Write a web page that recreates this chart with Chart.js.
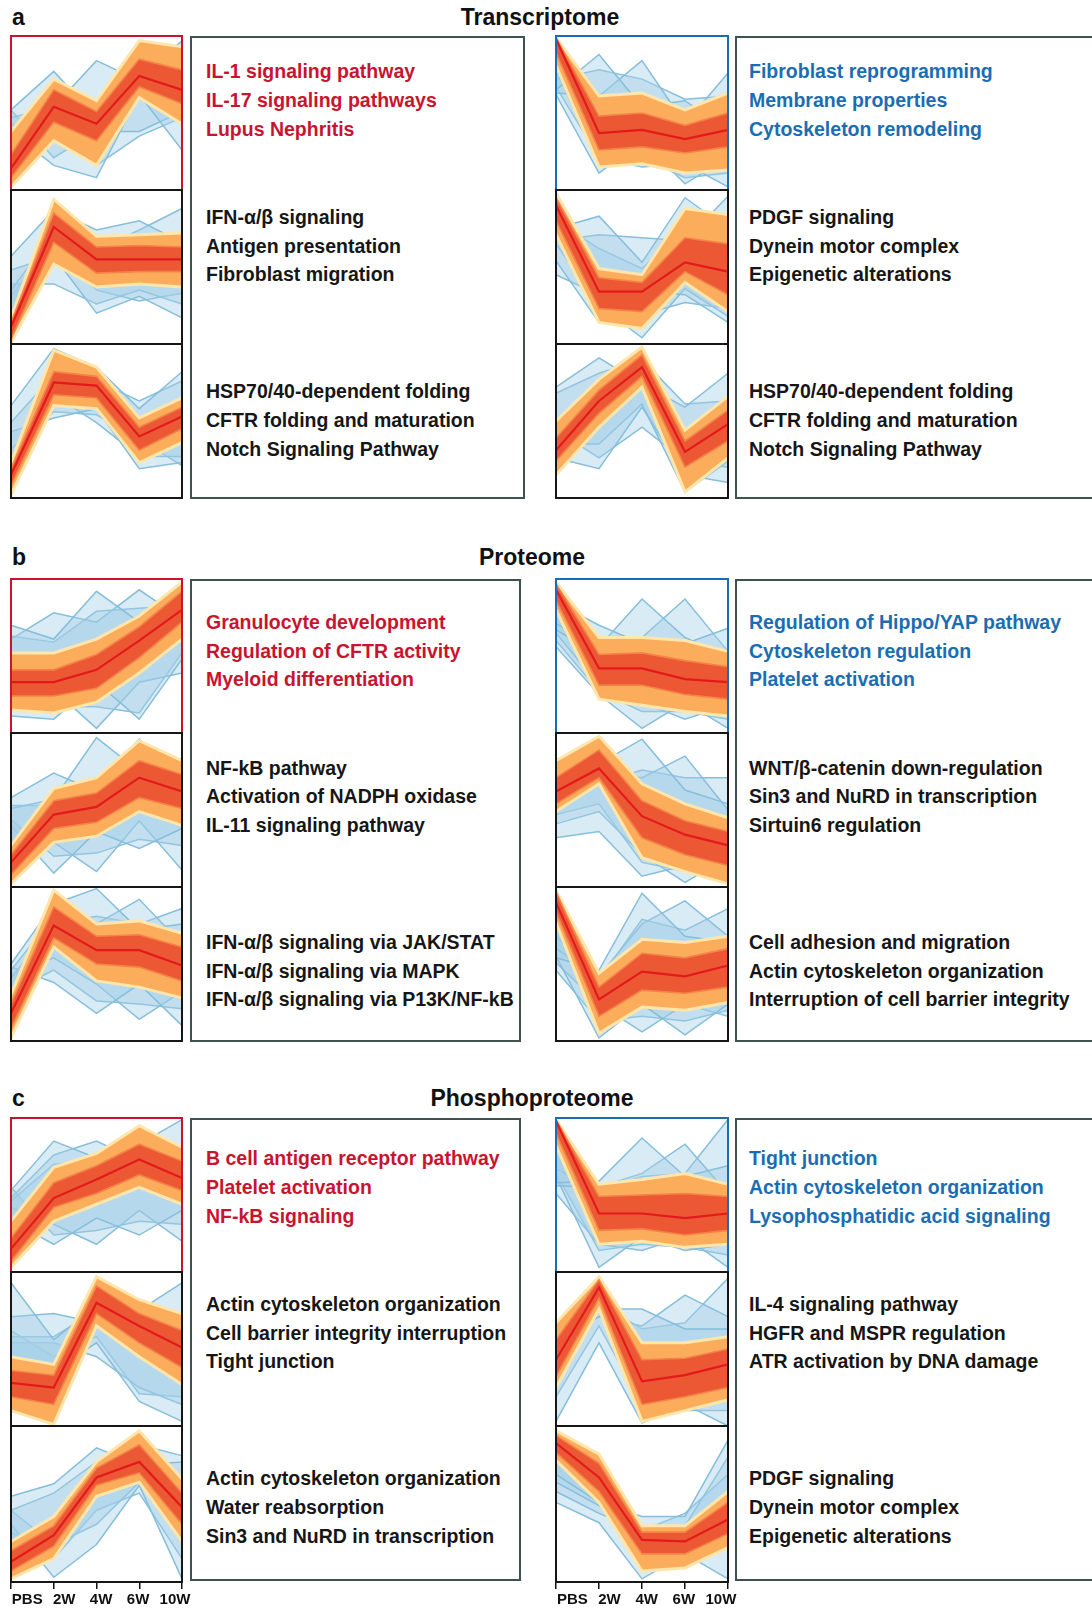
<!DOCTYPE html>
<html>
<head>
<meta charset="utf-8">
<title>Cluster profiles</title>
<script src="https://cdn.jsdelivr.net/npm/chart.js@4.4.1/dist/chart.umd.min.js"></script>
<style>
  html, body { margin: 0; padding: 0; background: #fff; }
  #page { position: relative; width: 1092px; height: 1608px; overflow: hidden;
          font-family: 'Liberation Sans', Arial, sans-serif; }
  .head { position: absolute; font-weight: bold; font-size: 23px; line-height: 23px; color: #111; white-space: nowrap; }
  .title { transform: translateX(-50%); }
  .textbox { position: absolute; border: 2px solid #3f524f; box-sizing: border-box; }
  .terms { position: absolute; font-weight: bold; font-size: 19.5px; line-height: 28.7px; white-space: nowrap; }
  canvas { position: absolute; }
</style>
</head>
<body>
<div id="page"></div>
<script>
const timepoints = ['PBS', '2W', '4W', '6W', '10W'];

// scaled expression, 0 = bottom of panel, 100 = top
// centroid, core band [hi, lo], outer band [hi, lo], low-membership lines

// Transcriptome
const trL1Centroid = [14, 54, 43, 74, 65];
const trL1Core = [[23, 65, 51, 85, 78], [8, 44, 32, 67, 56]];
const trL1Band = [[38, 72, 58, 97, 93], [2, 32, 16, 60, 43]];
const trL1Members = [[52, 77, 47, 95, 91], [47, 54, 84, 71, 97], [38, 16, 8, 62, 26], [52, 21, 38, 38, 51], [43, 32, 16, 35, 47]];

const trL2Centroid = [11, 76, 55, 55, 55];
const trL2Core = [[14, 85, 63, 64, 63], [3, 66, 46, 47, 47]];
const trL2Band = [[17, 94, 70, 71, 72], [1, 52, 37, 39, 37]];
const trL2Members = [[57, 87, 74, 80, 66], [35, 72, 61, 74, 88], [48, 57, 20, 31, 17], [39, 39, 26, 35, 26], [31, 66, 35, 28, 33]];

const trL3Centroid = [15, 75, 73, 40, 53];
const trL3Core = [[19, 82, 79, 46, 59], [8, 67, 65, 31, 45]];
const trL3Band = [[23, 96, 85, 52, 65], [2, 60, 58, 23, 36]];
const trL3Members = [[60, 97, 85, 58, 82], [49, 80, 76, 63, 76], [43, 52, 58, 19, 23], [5, 67, 49, 27, 27], [32, 56, 54, 38, 21]];

const trR1Centroid = [98, 37, 39, 33, 39];
const trR1Core = [[99, 48, 50, 42, 50], [89, 26, 28, 24, 28]];
const trR1Band = [[99, 61, 63, 52, 63], [81, 15, 17, 11, 13]];
const trR1Members = [[65, 88, 54, 58, 39], [63, 61, 84, 43, 76], [72, 78, 72, 59, 61], [62, 11, 32, 4, 21], [67, 21, 15, 17, 2], [78, 17, 21, 8, 11]];

const trR2Centroid = [90, 34, 34, 53, 47];
const trR2Core = [[95, 43, 40, 69, 65], [80, 23, 21, 47, 32]];
const trR2Band = [[98, 49, 45, 88, 84], [71, 14, 10, 40, 21]];
const trR2Members = [[75, 83, 53, 95, 75], [67, 71, 69, 67, 96], [80, 62, 49, 75, 84], [54, 14, 34, 32, 14], [65, 25, 4, 36, 18], [45, 32, 19, 27, 23]];

const trR3Centroid = [31, 63, 85, 30, 48];
const trR3Core = [[39, 70, 93, 37, 57], [24, 55, 79, 20, 37]];
const trR3Band = [[50, 77, 98, 44, 66], [15, 46, 72, 4, 26]];
const trR3Members = [[72, 91, 74, 59, 81], [68, 81, 90, 61, 63], [26, 19, 59, 15, 10], [35, 35, 61, 4, 24], [44, 26, 46, 24, 20]];

// Proteome
const prL1Centroid = [33, 33, 41, 60, 80];
const prL1Core = [[41, 41, 51, 69, 92], [24, 24, 29, 49, 72]];
const prL1Band = [[52, 52, 61, 76, 98], [15, 13, 20, 39, 61]];
const prL1Members = [[70, 61, 92, 72, 78], [61, 78, 72, 93, 74], [63, 59, 79, 81, 83], [11, 9, 33, 9, 48], [22, 28, 3, 33, 39], [15, 17, 17, 13, 52]];

const prL2Centroid = [16, 47, 52, 71, 62];
const prL2Core = [[21, 56, 61, 82, 73], [8, 38, 42, 58, 51]];
const prL2Band = [[27, 64, 71, 95, 82], [2, 29, 33, 49, 40]];
const prL2Members = [[58, 74, 62, 62, 84], [51, 57, 97, 75, 71], [53, 53, 67, 96, 67], [40, 9, 36, 25, 38], [31, 29, 10, 43, 11], [44, 20, 22, 31, 27]];

const prL3Centroid = [18, 75, 59, 59, 49];
const prL3Core = [[24, 87, 68, 69, 61], [8, 67, 50, 48, 39]];
const prL3Band = [[30, 98, 76, 78, 70], [2, 61, 39, 35, 28]];
const prL3Members = [[50, 89, 99, 72, 76], [46, 81, 76, 92, 63], [41, 76, 81, 76, 86], [48, 38, 18, 37, 10], [43, 54, 37, 14, 32], [32, 46, 26, 24, 21]];

const prR1Centroid = [93, 42, 42, 35, 33];
const prR1Core = [[97, 51, 52, 47, 43], [86, 31, 31, 25, 22]];
const prR1Band = [[98, 62, 62, 60, 53], [80, 22, 18, 14, 11]];
const prR1Members = [[85, 70, 58, 58, 68], [71, 56, 87, 62, 49], [67, 51, 62, 87, 53], [56, 25, 3, 20, 3], [65, 31, 20, 9, 18], [60, 27, 14, 14, 9]];

const prR2Centroid = [62, 77, 46, 34, 27];
const prR2Core = [[71, 89, 56, 43, 36], [54, 71, 32, 21, 14]];
const prR2Band = [[82, 98, 67, 54, 45], [49, 67, 19, 10, 2]];
const prR2Members = [[83, 80, 96, 63, 54], [76, 74, 71, 85, 50], [71, 67, 76, 71, 71], [32, 36, 7, 14, 10], [41, 49, 21, 3, 19], [47, 54, 16, 10, 5]];

const prR3Centroid = [90, 27, 45, 42, 49];
const prR3Core = [[97, 35, 57, 54, 60], [84, 16, 33, 31, 35]];
const prR3Band = [[98, 44, 66, 64, 68], [77, 5, 22, 20, 25]];
const prR3Members = [[54, 46, 96, 68, 64], [60, 42, 76, 91, 68], [68, 40, 79, 72, 86], [55, 2, 24, 4, 24], [51, 24, 6, 24, 16], [46, 13, 16, 13, 20]];

// Phosphoproteome
const phL1Centroid = [15, 48, 60, 73, 61];
const phL1Core = [[22, 58, 69, 83, 72], [7, 42, 51, 63, 53]];
const phL1Band = [[33, 68, 77, 95, 81], [3, 33, 44, 55, 44]];
const phL1Members = [[53, 85, 74, 78, 65], [48, 76, 85, 72, 81], [46, 70, 72, 83, 99], [33, 18, 35, 24, 40], [42, 31, 18, 40, 20], [55, 24, 27, 33, 31]];

const phL2Centroid = [28, 25, 80, 65, 51];
const phL2Core = [[36, 33, 91, 73, 62], [19, 14, 73, 54, 38]];
const phL2Band = [[45, 40, 97, 82, 73], [10, 1, 65, 45, 27]];
const phL2Members = [[93, 56, 78, 71, 71], [71, 73, 67, 82, 65], [58, 58, 75, 75, 93], [45, 36, 54, 16, 3], [54, 54, 45, 25, 14], [62, 45, 58, 21, 19]];

const phL3Centroid = [13, 30, 67, 77, 48];
const phL3Core = [[20, 36, 73, 88, 57], [7, 23, 62, 70, 37]];
const phL3Band = [[26, 42, 77, 97, 66], [2, 15, 55, 64, 26]];
const phL3Members = [[55, 63, 86, 75, 77], [46, 57, 77, 88, 81], [37, 3, 24, 62, 2], [46, 24, 37, 64, 29], [32, 15, 46, 57, 15]];

const phR1Centroid = [98, 38, 38, 35, 38];
const phR1Core = [[99, 49, 50, 51, 49], [90, 27, 28, 24, 27]];
const phR1Band = [[99, 57, 60, 64, 57], [82, 18, 20, 16, 18]];
const phR1Members = [[58, 59, 87, 62, 69], [56, 55, 64, 83, 51], [67, 53, 62, 64, 99], [62, 3, 23, 14, 18], [51, 18, 14, 23, 3], [64, 14, 18, 16, 11]];

const phR2Centroid = [43, 90, 29, 33, 40];
const phR2Core = [[56, 95, 43, 44, 50], [32, 83, 14, 19, 25]];
const phR2Band = [[67, 97, 54, 54, 58], [25, 76, 3, 10, 17]];
const phR2Members = [[50, 76, 76, 63, 63], [54, 71, 65, 85, 71], [58, 80, 63, 67, 96], [3, 54, 2, 14, 0], [19, 65, 14, 10, 10]];

const phR3Centroid = [89, 67, 27, 26, 40];
const phR3Core = [[94, 76, 32, 32, 51], [83, 58, 18, 18, 31]];
const phR3Band = [[97, 82, 36, 36, 58], [78, 51, 7, 9, 22]];
const phR3Members = [[69, 51, 42, 42, 91], [64, 49, 36, 36, 80], [58, 44, 33, 44, 69], [51, 38, 2, 18, 2]];

// enriched terms next to each cluster
const trLTerms = [
  ['IL-1 signaling pathway', 'IL-17 signaling pathways', 'Lupus Nephritis'],
  ['IFN-α/β signaling', 'Antigen presentation', 'Fibroblast migration'],
  ['HSP70/40-dependent folding', 'CFTR folding and maturation', 'Notch Signaling Pathway']];
const trRTerms = [
  ['Fibroblast reprogramming', 'Membrane properties', 'Cytoskeleton remodeling'],
  ['PDGF signaling', 'Dynein motor complex', 'Epigenetic alterations'],
  ['HSP70/40-dependent folding', 'CFTR folding and maturation', 'Notch Signaling Pathway']];
const prLTerms = [
  ['Granulocyte development', 'Regulation of CFTR activity', 'Myeloid differentiation'],
  ['NF-kB pathway', 'Activation of NADPH oxidase', 'IL-11 signaling pathway'],
  ['IFN-α/β signaling via JAK/STAT', 'IFN-α/β signaling via MAPK', 'IFN-α/β signaling via P13K/NF-kB']];
const prRTerms = [
  ['Regulation of Hippo/YAP pathway', 'Cytoskeleton regulation', 'Platelet activation'],
  ['WNT/β-catenin down-regulation', 'Sin3 and NuRD in transcription', 'Sirtuin6 regulation'],
  ['Cell adhesion and migration', 'Actin cytoskeleton organization', 'Interruption of cell barrier integrity']];
const phLTerms = [
  ['B cell antigen receptor pathway', 'Platelet activation', 'NF-kB signaling'],
  ['Actin cytoskeleton organization', 'Cell barrier integrity interruption', 'Tight junction'],
  ['Actin cytoskeleton organization', 'Water reabsorption', 'Sin3 and NuRD in transcription']];
const phRTerms = [
  ['Tight junction', 'Actin cytoskeleton organization', 'Lysophosphatidic acid signaling'],
  ['IL-4 signaling pathway', 'HGFR and MSPR regulation', 'ATR activation by DNA damage'],
  ['PDGF signaling', 'Dynein motor complex', 'Epigenetic alterations']];

const RED = '#c8142f';
const BLUE = '#1b6db3';
const INK = '#161616';

Chart.defaults.font.family = "'Liberation Sans', Arial, sans-serif";

const page = document.getElementById('page');

// draws the box round each panel
const panelFrame = {
  id: 'panelFrame',
  afterDatasetsDraw(chart, args, opts) {
    const { ctx, chartArea: a } = chart;
    ctx.save();
    ctx.strokeStyle = opts.color;
    ctx.lineWidth = 2;
    ctx.strokeRect(a.left, a.top, a.right - a.left, a.bottom - a.top);
    ctx.restore();
  }
};

function drawPanel(x, y, w, h, centroid, core, band, members, frameColor, withAxis) {
  const cv = document.createElement('canvas');
  const extraRight = withAxis ? 14 : 0;
  const cw = w + 4 + extraRight, ch = h + 4 + (withAxis ? 24 : 0);
  cv.width = cw; cv.height = ch;
  cv.style.left = (x - 2) + 'px';
  cv.style.top = (y - 2) + 'px';
  cv.style.width = cw + 'px';
  cv.style.height = ch + 'px';
  page.appendChild(cv);

  const datasets = [
    { data: centroid, borderColor: '#e31a1c', borderWidth: 2.2, fill: false, order: 0 },
    { data: core[0], borderColor: '#f4834a', borderWidth: 1.6, order: 3,
      fill: { target: 2, above: '#ec5834', below: '#ec5834' } },
    { data: core[1], borderColor: '#f4834a', borderWidth: 1.6, fill: false, order: 2 },
    { data: band[0], borderColor: '#fee6ad', borderWidth: 3, order: 5,
      fill: { target: 4, above: '#fbad5c', below: '#fbad5c' } },
    { data: band[1], borderColor: '#fee6ad', borderWidth: 3, fill: false, order: 4 }
  ];
  members.forEach(m => {
    datasets.push({ data: m, borderColor: '#86bedb', borderWidth: 1.5, order: 6,
      fill: { target: 0, above: 'rgba(165,208,232,0.42)', below: 'rgba(165,208,232,0.42)' } });
  });

  const scales = {
    x: { display: false, offset: false },
    y: { display: false, min: 0, max: 100 }
  };
  if (withAxis) {
    // tick marks at each time point
    scales.x = {
      display: true,
      offset: false,
      grid: { display: true, drawOnChartArea: false, drawTicks: true, tickLength: 7, color: '#111', lineWidth: 1.5 },
      border: { display: false },
      ticks: { display: false },
      afterFit: s => { s.height = 7; s.paddingLeft = 0; s.paddingRight = 0; }
    };
    // time point labels, spaced as in the original figure
    scales.xLabels = {
      type: 'linear',
      position: 'bottom',
      min: -0.44,
      max: 4.19,
      grid: { display: false, drawTicks: false },
      border: { display: false },
      afterBuildTicks: s => { s.ticks = timepoints.map((t, i) => ({ value: i })); },
      ticks: {
        autoSkip: false,
        maxRotation: 0,
        padding: 2,
        color: '#111',
        font: { size: 15, weight: 'bold' },
        callback: v => timepoints[v]
      },
      afterFit: s => { s.height = 17; s.paddingLeft = 0; s.paddingRight = 0; }
    };
  }

  new Chart(cv, {
    type: 'line',
    data: { labels: timepoints, datasets: datasets },
    options: {
      responsive: false,
      animation: false,
      events: [],
      layout: { padding: { left: 2, right: 2 + extraRight, top: 2, bottom: withAxis ? 0 : 2 } },
      elements: { point: { radius: 0 }, line: { tension: 0 } },
      plugins: {
        legend: { display: false },
        tooltip: { enabled: false },
        panelFrame: { color: frameColor }
      },
      scales: scales
    },
    plugins: [panelFrame]
  });
}

function addText(cls, text, left, top, color) {
  const d = document.createElement('div');
  d.className = cls;
  d.textContent = text;
  d.style.left = left + 'px';
  d.style.top = top + 'px';
  if (color) d.style.color = color;
  page.appendChild(d);
  return d;
}

function addTerms(lines, left, firstCenter, color) {
  const d = document.createElement('div');
  d.className = 'terms';
  d.style.left = left + 'px';
  d.style.top = (firstCenter - 14.35) + 'px';
  d.style.color = color;
  d.innerHTML = lines.join('<br>');
  page.appendChild(d);
}

function addBox(left, top, w, h) {
  const d = document.createElement('div');
  d.className = 'textbox';
  d.style.left = left + 'px';
  d.style.top = top + 'px';
  d.style.width = w + 'px';
  d.style.height = h + 'px';
  page.appendChild(d);
}

function drawSection(letter, title, titleX, titleY, top, boxW, textCenters, left, right, isLast) {
  addText('head', letter, 12, titleY - 11.5);
  addText('head title', title, titleX, titleY - 11.5);

  const rowH = 154;
  addBox(190, top, boxW, rowH * 3 + 1);
  addBox(735, top, 400, rowH * 3 + 1);

  const frames = [[RED, BLUE], [INK, INK], [INK, INK]];
  const termColors = [[RED, BLUE], [INK, INK], [INK, INK]];
  for (let r = 0; r < 3; r++) {
    const y = top + r * rowH;
    const axis = isLast && r === 2;
    drawPanel(11, y, 171, rowH, left.centroids[r], left.cores[r], left.bands[r], left.members[r], frames[r][0], axis);
    drawPanel(556, y, 172, rowH, right.centroids[r], right.cores[r], right.bands[r], right.members[r], frames[r][1], axis);
    addTerms(left.terms[r], 206, textCenters[r], termColors[r][0]);
    addTerms(right.terms[r], 749, textCenters[r], termColors[r][1]);
  }
}

drawSection('a', 'Transcriptome', 540, 17.5, 36, 335, [71.8, 217.4, 391.7],
  { centroids: [trL1Centroid, trL2Centroid, trL3Centroid], cores: [trL1Core, trL2Core, trL3Core],
    bands: [trL1Band, trL2Band, trL3Band], members: [trL1Members, trL2Members, trL3Members], terms: trLTerms },
  { centroids: [trR1Centroid, trR2Centroid, trR3Centroid], cores: [trR1Core, trR2Core, trR3Core],
    bands: [trR1Band, trR2Band, trR3Band], members: [trR1Members, trR2Members, trR3Members], terms: trRTerms },
  false);

drawSection('b', 'Proteome', 532, 557, 579, 331, [622.4, 768, 942.3],
  { centroids: [prL1Centroid, prL2Centroid, prL3Centroid], cores: [prL1Core, prL2Core, prL3Core],
    bands: [prL1Band, prL2Band, prL3Band], members: [prL1Members, prL2Members, prL3Members], terms: prLTerms },
  { centroids: [prR1Centroid, prR2Centroid, prR3Centroid], cores: [prR1Core, prR2Core, prR3Core],
    bands: [prR1Band, prR2Band, prR3Band], members: [prR1Members, prR2Members, prR3Members], terms: prRTerms },
  false);

drawSection('c', 'Phosphoproteome', 532, 1098, 1118, 331, [1158.7, 1304.3, 1478.6],
  { centroids: [phL1Centroid, phL2Centroid, phL3Centroid], cores: [phL1Core, phL2Core, phL3Core],
    bands: [phL1Band, phL2Band, phL3Band], members: [phL1Members, phL2Members, phL3Members], terms: phLTerms },
  { centroids: [phR1Centroid, phR2Centroid, phR3Centroid], cores: [phR1Core, phR2Core, phR3Core],
    bands: [phR1Band, phR2Band, phR3Band], members: [phR1Members, phR2Members, phR3Members], terms: phRTerms },
  true);
</script>
</body>
</html>
